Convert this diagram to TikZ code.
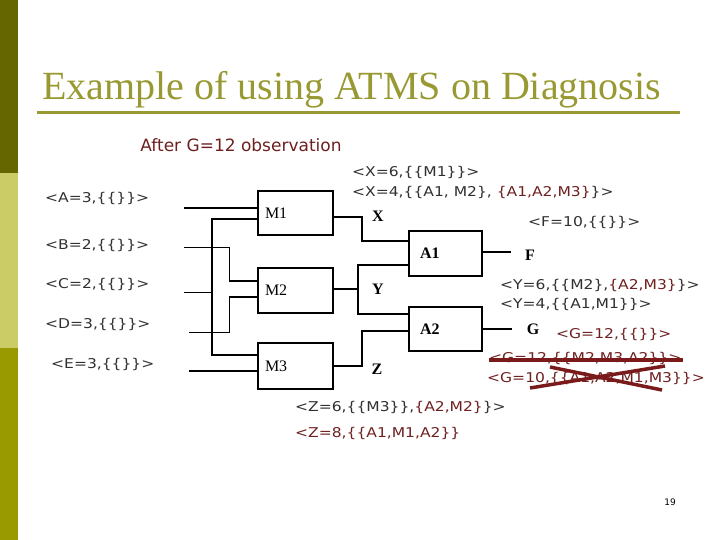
\documentclass[tikz,border=0pt]{standalone}
\usepackage{fontspec}
\newfontfamily\titlefont{Liberation Serif}
\newfontfamily\lab[FakeStretch=1.15]{DejaVu Sans}
\newfontfamily\dv{DejaVu Sans}
\definecolor{oliveA}{HTML}{666600}
\definecolor{oliveB}{HTML}{CCCC66}
\definecolor{oliveC}{HTML}{999900}
\definecolor{titlecol}{HTML}{999933}
\definecolor{mr}{HTML}{6E2020}
\definecolor{strikecol}{HTML}{7A1A1A}
\definecolor{labgray}{HTML}{303030}
\tikzset{
  gate/.style={draw, line width=1.5pt, inner sep=0pt, align=left,
    font=\titlefont\fontsize{16}{18}\selectfont},
  mgate/.style={gate, minimum width=75pt, text width=61pt, inner xsep=7pt},
  agate/.style={gate, minimum width=73pt, text width=51pt, inner xsep=11pt, font=\titlefont\bfseries\fontsize{16}{18}\selectfont},
  wthick/.style={line width=2pt},
  wmid/.style={line width=1.5pt},
  wthin/.style={line width=0.8pt},
  sig/.style={font=\titlefont\bfseries\fontsize{16}{18}\selectfont, inner sep=0pt},
  val/.style={font=\lab\fontsize{13.5}{16}\selectfont, text=labgray, anchor=west, inner sep=0pt},
  strike/.style={line width=3.5pt, strikecol}
}
\begin{document}
\begin{tikzpicture}[x=1pt,y=-1pt]
\useasboundingbox (0,0) rectangle (720,540);
% side bar
\fill[oliveA] (0,0) rectangle (18,173);
\fill[oliveB] (0,173) rectangle (18,348);
\fill[oliveC] (0,348) rectangle (18,540);
% title
\node[anchor=base west, inner sep=0pt, text=titlecol, font=\titlefont\fontsize{40}{46}\selectfont] (title) at (42,100) {Example of using ATMS on Diagnosis};
\draw[titlecol, line width=3pt] (37,113) -- (680,113);
\node[inner sep=0pt, text=mr, font=\dv\fontsize{17}{20}\selectfont] (after) at (241,145) {After G=12 observation};
% gates
\node[mgate, minimum height=44pt] (M1) at (295.5,213) {M1};
\node[mgate, minimum height=45pt] (M2) at (295.5,290.5) {M2};
\node[mgate, minimum height=46pt] (M3) at (295.5,366) {M3};
\node[agate, minimum height=45pt] (A1) at (445.5,253.5) {A1};
\node[agate, minimum height=44pt] (A2) at (445.5,329) {A2};
% input coordinates
\coordinate (ina) at (184,208);
\coordinate (inb) at (184,247);
\coordinate (inc) at (184,292);
\coordinate (ind) at (189,332);
\coordinate (ine) at (189,371);
\coordinate (cTop) at (212,219);
\coordinate (cBot) at (212,355);
\coordinate (bTurn) at (229,247);
\coordinate (bIn) at (229,281);
\coordinate (dTurn) at (229,332);
\coordinate (dIn) at (229,297);
% inputs
\draw[wthick] (ina) -- (ina -| M1.west);
\draw[wmid] (cTop -| M1.west) -- (cTop) -- (cBot) -- (cBot -| M3.west);
\draw[wthin] (inc) -- (inc -| cTop);
\draw[wthin] (inb) -- (bTurn) -- (bIn);
\draw[wmid] (bIn) -- (bIn -| M2.west);
\draw[wthin] (ind) -- (dTurn) -- (dIn);
\draw[wmid] (dIn) -- (dIn -| M2.west);
\draw[wthick] (ine) -- (ine -| M3.west);
% internal wires
\coordinate (xTurn) at (362,217);
\coordinate (xDown) at (362,241);
\coordinate (yMid) at (358,289);
\coordinate (yTop) at (358,265);
\coordinate (yBot) at (358,314);
\coordinate (zTurn) at (362,366);
\coordinate (zUp) at (362,331);
\coordinate (fEnd) at (511,252);
\coordinate (gEnd) at (512,329);
\draw[wthick] (xTurn -| M1.east) -- (xTurn) -- (xDown) -- (xDown -| A1.west);
\draw[wthick] (yMid -| M2.east) -- (yMid);
\draw[wthick] (yTop -| A1.west) -- (yTop) -- (yBot) -- (yBot -| A2.west);
\draw[wthick] (zTurn -| M3.east) -- (zTurn) -- (zUp) -- (zUp -| A2.west);
\draw[wthick] (fEnd -| A1.east) -- (fEnd);
\draw[wthick] (gEnd -| A2.east) -- (gEnd);
% signal names
\node[sig] (X) at (378,216) {X};
\node[sig] (Y) at (378,289) {Y};
\node[sig] (Z) at (377,369) {Z};
\node[sig] (F) at (530,255) {F};
\node[sig] (G) at (533,329) {G};
% values
\node[val] (va) at (45,198) {<A=3,\{\{\}\}>};
\node[val] (vb) at (45,245) {<B=2,\{\{\}\}>};
\node[val] (vc) at (45,284) {<C=2,\{\{\}\}>};
\node[val] (vd) at (45,324) {<D=3,\{\{\}\}>};
\node[val] (ve) at (51,364) {<E=3,\{\{\}\}>};
\node[val] (vx1) at (352,172) {<X=6,\{\{M1\}\}>};
\node[val] (vx2) at (352,192) {<X=4,\{\{A1, M2\}, \textcolor{mr}{\{A1,A2,M3\}}\}>};
\node[val] (vf) at (528,222) {<F=10,\{\{\}\}>};
\node[val] (vy1) at (500,285) {<Y=6,\{\{M2\},\textcolor{mr}{\{A2,M3\}}\}>};
\node[val] (vy2) at (500,304) {<Y=4,\{\{A1,M1\}\}>};
\node[val, text=mr] (vg1) at (556,334) {<G=12,\{\{\}\}>};
\node[val, text=mr] (vg2) at (489,358) {<G=12,\{\{M2,M3,A2\}\}>};
\node[val, text=mr] (vg3) at (487,378) {<G=10,\{\{A1,A2,M1,M3\}\}>};
\node[val] (vz1) at (295,407) {<Z=6,\{\{M3\}\},\textcolor{mr}{\{A2,M2\}}\}>};
\node[val, text=mr] (vz2) at (295,433) {<Z=8,\{\{A1,M1,A2\}\}};
% strike-outs
\coordinate (s1) at (489,360);
\coordinate (s2) at (683,360);
\coordinate (x1a) at (530,388);
\coordinate (x1b) at (665,366);
\coordinate (x2a) at (550,367);
\coordinate (x2b) at (662,390);
\draw[strike] (s1) -- (s2);
\draw[strike] (x1a) -- (x1b);
\draw[strike] (x2a) -- (x2b);
% page number
\node[inner sep=0pt, font=\dv\fontsize{9}{10}\selectfont] (pg) at (670,502) {19};
\end{tikzpicture}
\end{document}
